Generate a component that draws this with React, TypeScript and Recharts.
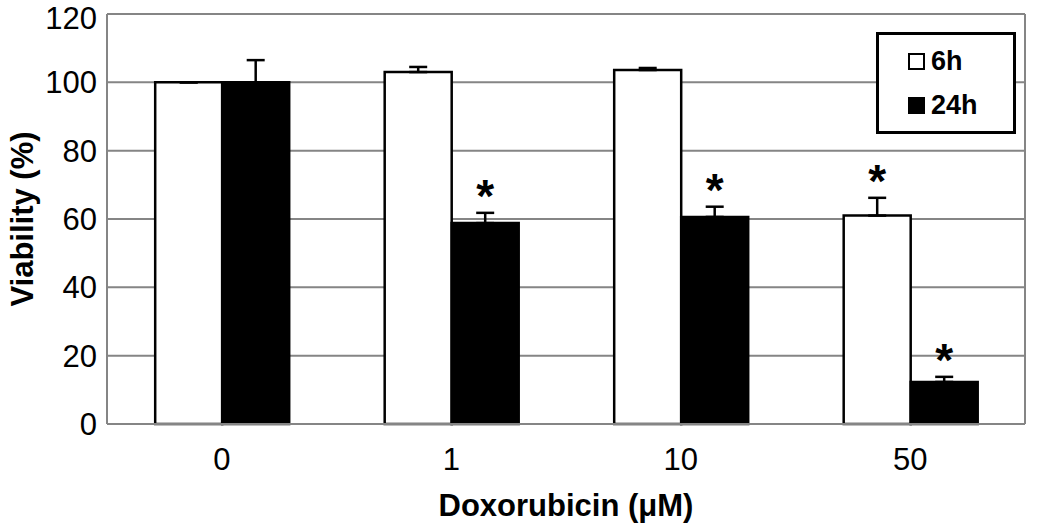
import { BarChart, Bar, XAxis, YAxis, CartesianGrid, ErrorBar, LabelList } from 'recharts';

const categories = ['0', '1', '10', '50'];
const viability6h = [100, 103, 103.6, 61];
const viability24h = [100, 58.8, 60.6, 12.3];
const sem6h = [0, 1.5, 0.6, 5.2];
const sem24h = [6.5, 3, 3, 1.5];
const sig6h = [false, false, false, true];
const sig24h = [false, true, true, true];
const yTicks = [0, 20, 40, 60, 80, 100, 120];

const data = categories.map((dose, i) => ({
  dose,
  h6: viability6h[i],
  h24: viability24h[i],
  e6: [0, sem6h[i]],
  e24: [0, sem24h[i]],
}));

const FONT = '"Liberation Sans", Arial, sans-serif';
const GRID = '#858585';

// asterisk placed above the error cap (cap height derived from the bar's own scale)
function starLabel(sig: boolean[], sem: number[], values: number[]) {
  return (props: any) => {
    const { x, y, width, height, index } = props;
    if (!sig[index]) return null;
    const pxPerUnit = height / values[index];
    const capY = y - sem[index] * pxPerUnit;
    return (
      <text
        x={x + width / 2}
        y={capY - 1}
        textAnchor="middle"
        fontFamily={FONT}
        fontWeight="bold"
        fontSize={46}
        fill="#000"
      >
        *
      </text>
    );
  };
}

function LegendBox() {
  const item = (label: string, fill: string) => (
    <div style={{ display: 'flex', alignItems: 'center', height: 44 }}>
      <span
        style={{
          display: 'inline-block',
          width: 13,
          height: 13,
          border: '2px solid #000',
          background: fill,
          marginRight: 6,
        }}
      />
      <span style={{ fontFamily: FONT, fontWeight: 'bold', fontSize: 27 }}>{label}</span>
    </div>
  );
  return (
    <div
      style={{
        position: 'absolute',
        left: 876,
        top: 32,
        width: 134,
        height: 96,
        border: '3px solid #000',
        background: '#fff',
        display: 'flex',
        flexDirection: 'column',
        justifyContent: 'center',
      }}
    >
      <div style={{ marginLeft: 29 }}>
        {item('6h', '#fff')}
        {item('24h', '#000')}
      </div>
    </div>
  );
}

export default function App() {
  return (
    <div style={{ position: 'absolute', left: 0, top: 0, width: 1050, height: 530, background: '#fff' }}>
      <BarChart
        width={1050}
        height={530}
        data={data}
        margin={{ top: 14, right: 25, bottom: 6, left: 0 }}
        barCategoryGap="21%"
        barGap={0}
      >
        <CartesianGrid
          vertical
          horizontal
          stroke={GRID}
          strokeWidth={2}
          verticalPoints={[1025]}
          fill="none"
        />
        <XAxis
          dataKey="dose"
          height={100}
          tickLine={false}
          tickMargin={18}
          axisLine={{ stroke: GRID, strokeWidth: 2 }}
          tick={{ fontFamily: FONT, fontSize: 31, fill: '#000' }}
          label={{
            value: 'Doxorubicin (\u03BCM)',
            position: 'insideBottom',
            offset: 8,
            style: { fontFamily: FONT, fontWeight: 'bold', fontSize: 31, fill: '#000' },
          }}
        />
        <YAxis
          width={107}
          domain={[0, 120]}
          ticks={yTicks}
          tickLine={false}
          tickMargin={4}
          axisLine={{ stroke: GRID, strokeWidth: 2 }}
          tick={{ fontFamily: FONT, fontSize: 31, fill: '#000' }}
          label={{
            value: 'Viability (%)',
            angle: -90,
            position: 'insideLeft',
            offset: 22,
            style: { textAnchor: 'middle', fontFamily: FONT, fontWeight: 'bold', fontSize: 31, fill: '#000' },
          }}
        />
        <Bar dataKey="h6" fill="#fff" stroke="#000" strokeWidth={2.5} isAnimationActive={false}>
          <ErrorBar dataKey="e6" width={9} stroke="#000" strokeWidth={2.5} direction="y" />
          <LabelList dataKey="h6" content={starLabel(sig6h, sem6h, viability6h)} />
        </Bar>
        <Bar dataKey="h24" fill="#000" stroke="#000" strokeWidth={2.5} isAnimationActive={false}>
          <ErrorBar dataKey="e24" width={9} stroke="#000" strokeWidth={2.5} direction="y" />
          <LabelList dataKey="h24" content={starLabel(sig24h, sem24h, viability24h)} />
        </Bar>
      </BarChart>
      <LegendBox />
    </div>
  );
}
